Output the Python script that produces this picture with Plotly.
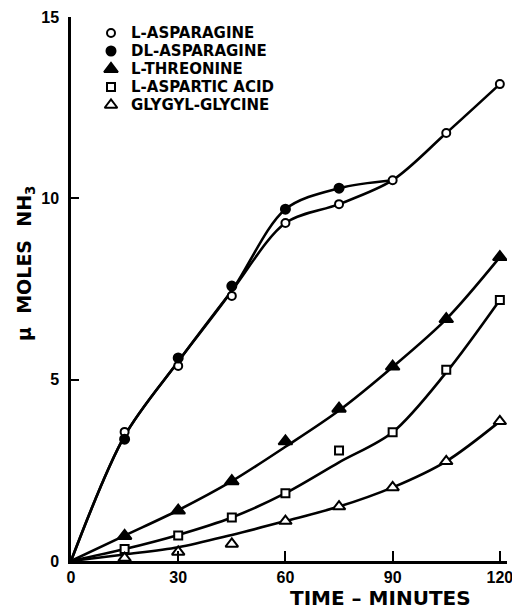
import plotly.graph_objects as go

# ---- data ----
time_min = [15, 30, 45, 60, 75, 90, 105, 120]
l_asparagine = [3.56, 5.38, 7.31, 9.32, 9.84, 10.5, 11.8, 13.15]
dl_time = [15, 30, 45, 60, 75]
dl_asparagine = [3.36, 5.6, 7.58, 9.7, 10.28]
l_threonine = [0.69, 1.39, 2.2, 3.3, 4.2, 5.36, 6.67, 8.38]
l_aspartic = [0.33, 0.7, 1.2, 1.87, 3.05, 3.55, 5.27, 7.2]
glygyl_glycine = [0.08, 0.25, 0.47, 1.1, 1.5, 2.03, 2.75, 3.85]

# smooth fitted curves (values of the drawn curves)
curve_time = [0, 15, 30, 45, 60, 75, 90, 105, 120]
curve_l_asp = [0, 3.45, 5.5, 7.45, 9.32, 9.84, 10.5, 11.8, 13.15]
curve_dl_time = [0, 15, 30, 45, 60, 75, 90]
curve_dl_asp = [0, 3.45, 5.5, 7.45, 9.7, 10.28, 10.5]
curve_thr = [0, 0.7, 1.4, 2.2, 3.15, 4.15, 5.35, 6.67, 8.38]
curve_asp_acid = [0, 0.33, 0.72, 1.2, 1.87, 2.72, 3.55, 5.2, 7.2]
curve_gly = [0, 0.18, 0.38, 0.72, 1.1, 1.5, 2.03, 2.75, 3.85]

x_ticks = [0, 30, 60, 90, 120]
y_ticks = [0, 5, 10, 15]

legend_names = ["L-ASPARAGINE", "DL-ASPARAGINE", "L-THREONINE",
                "L-ASPARTIC ACID", "GLYGYL-GLYCINE"]
legend_rows = [0, 1, 2, 3, 4]

NUM_FONT = "Liberation Sans"
TXT_FONT = "DejaVu Sans"
BLACK = "black"

# page geometry (pixels in the 520x610 window); the page body adds 8 px
OFF = 8
W, H = 520 - OFF, 610 - OFF
X0, X1 = 71 - OFF, 507 - OFF      # plot area left / right in figure px
Y0, Y1 = 17 - OFF, 561 - OFF      # plot area top / bottom in figure px
L, R, T, B = X0, W - X1, Y0, H - Y1
PW, PH = X1 - X0, Y1 - Y0
LEG_TOP, LEG_STEP = 33 - OFF, 18
LEG_MARK_X, LEG_TEXT_X = 111 - OFF, 129 - OFF

fig = go.Figure()

line_style = dict(color=BLACK, width=2.6, shape="spline", smoothing=0.9)
for xs, ys in [(curve_time, curve_l_asp), (curve_dl_time, curve_dl_asp),
               (curve_time, curve_thr), (curve_time, curve_asp_acid),
               (curve_time, curve_gly)]:
    fig.add_trace(go.Scatter(x=xs, y=ys, mode="lines", line=line_style,
                             showlegend=False, hoverinfo="skip"))

marker_styles = [
    ("circle", "white", 8),
    ("circle", BLACK, 9),
    ("triangle-up", BLACK, 12),
    ("square", "white", 8),
    ("triangle-up", "white", 11),
]
series_data = [(time_min, l_asparagine), (dl_time, dl_asparagine),
               (time_min, l_threonine), (time_min, l_aspartic),
               (time_min, glygyl_glycine)]

for name, (xs, ys), (sym, fill, size) in zip(legend_names, series_data, marker_styles):
    fig.add_trace(go.Scatter(
        x=xs, y=ys, mode="markers", name=name, showlegend=False,
        marker=dict(symbol=sym, color=fill, size=size,
                    line=dict(color=BLACK, width=2)),
    ))

# hand-drawn style legend on an overlay axis measured in pixels / rows
for row, (sym, fill, size) in zip(legend_rows, marker_styles):
    fig.add_trace(go.Scatter(
        x=[LEG_MARK_X - L], y=[row], xaxis="x2", yaxis="y2",
        mode="markers", showlegend=False, hoverinfo="skip",
        marker=dict(symbol=sym, color=fill, size=size,
                    line=dict(color=BLACK, width=2)),
    ))

annotations = []
for row, name in zip(legend_rows, legend_names):
    annotations.append(dict(
        text=name, xref="x2", yref="y2", x=LEG_TEXT_X - L, y=row,
        xanchor="left", yanchor="middle", showarrow=False,
        font=dict(family=TXT_FONT, size=15, weight="bold", color=BLACK)))

annotations += [
    dict(text="TIME – MINUTES", xref="paper", yref="paper",
         x=(380 - OFF - L) / PW, y=-(598 - OFF - Y1) / PH,
         xanchor="center", yanchor="middle", showarrow=False,
         font=dict(family=TXT_FONT, size=20, weight="bold", color=BLACK)),
    dict(text="μ  MOLES  NH<sub>3</sub>", xref="paper", yref="paper",
         x=(25 - OFF - L) / PW, y=1 - (264 - OFF - T) / PH,
         xanchor="center", yanchor="middle", showarrow=False,
         textangle=-90,
         font=dict(family=TXT_FONT, size=19, weight="bold", color=BLACK)),
]

fig.update_layout(
    template="none",
    width=W, height=H,
    margin=dict(l=L, r=R, t=T, b=B, pad=0),
    paper_bgcolor="white", plot_bgcolor="white",
    font=dict(family=NUM_FONT, color=BLACK),
    showlegend=False,
    xaxis=dict(range=[0, 122], showgrid=False, zeroline=False,
               automargin=False,
               showline=True, linecolor=BLACK, linewidth=2.5,
               tickmode="array", tickvals=x_ticks,
               ticktext=[str(v) for v in x_ticks],
               ticks="inside", ticklen=10, tickwidth=2, tickcolor=BLACK,
               tickfont=dict(family=NUM_FONT, size=16, weight="bold", color=BLACK)),
    yaxis=dict(range=[0, 15], showgrid=False, zeroline=False,
               automargin=False,
               showline=True, linecolor=BLACK, linewidth=2.5,
               tickmode="array", tickvals=y_ticks,
               ticktext=[str(v) for v in y_ticks],
               ticks="inside", ticklen=8, tickwidth=2, tickcolor=BLACK,
               ticklabelstandoff=6,
               tickfont=dict(family=NUM_FONT, size=16, weight="bold", color=BLACK)),
    xaxis2=dict(overlaying="x", range=[0, PW], visible=False,
                automargin=False, fixedrange=True),
    yaxis2=dict(overlaying="y",
                range=[(Y1 - LEG_TOP) / LEG_STEP, -(LEG_TOP - Y0) / LEG_STEP],
                visible=False, automargin=False, fixedrange=True),
    annotations=annotations,
)

fig.write_html("out.html")
